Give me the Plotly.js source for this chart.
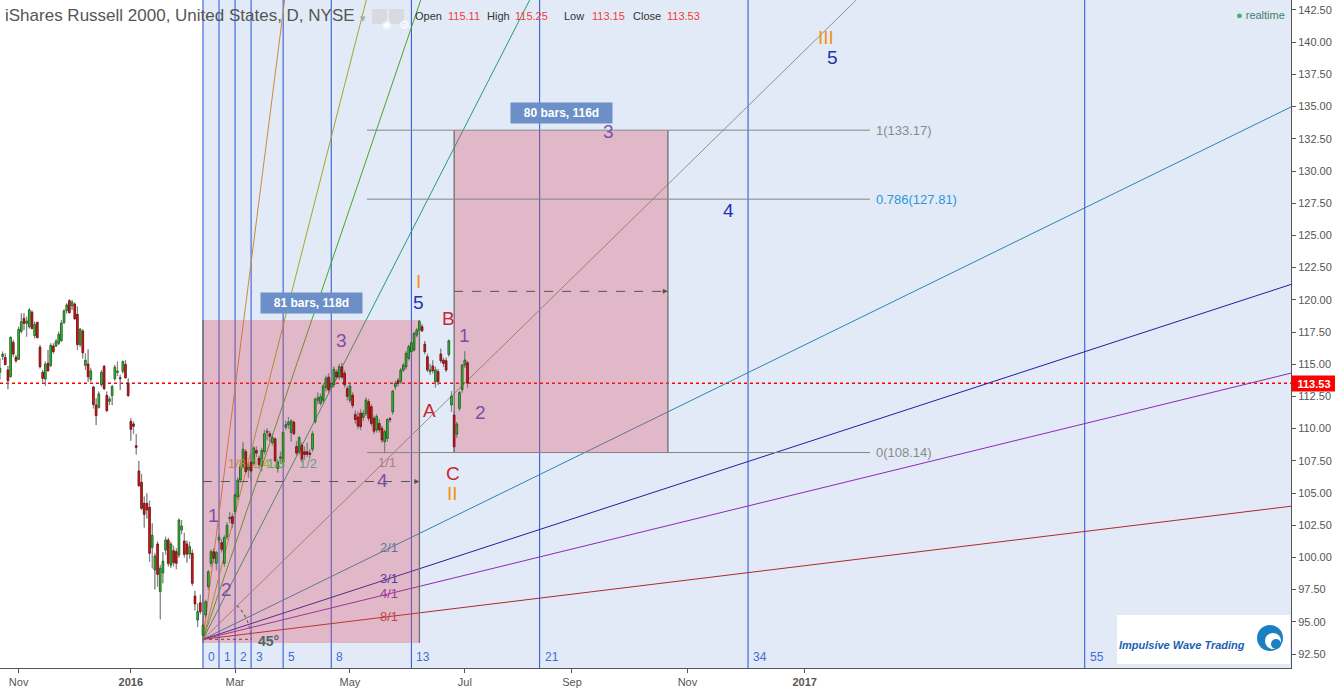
<!DOCTYPE html>
<html><head><meta charset="utf-8">
<script src="https://cdn.plot.ly/plotly-3.0.1.min.js"></script>
<style>html,body{margin:0;padding:0;background:#fff;}#chart{width:1335px;height:689px;}</style>
</head><body><div id="chart"></div>
<script>
// ---------- DATA ----------
const firstBar = -7; // bar index of first candle (bar 0 = first trading day of Nov 2015)
const openP = [114.37,115.61,115.53,114.55,114.03,116.70,115.53,
115.38,117.55,118.56,118.17,117.91,119.03,117.21,118.25,116.31,114.37,
113.85,115.07,114.89,116.41,116.41,116.62,116.83,118.25,119.16,119.93,
119.54,119.67,118.87,116.54,117.58,114.91,115.01,113.82,113.23,111.83,
111.65,113.41,114.83,112.58,112.12,112.56,113.88,114.37,113.95,114.45,
114.99,113.54,110.56,110.36,108.67,106.71,105.83,104.20,104.20,103.89,
100.78,99.02,101.04,97.34,98.80,100.57,101.35,99.41,100.52,100.45,
100.19,102.13,101.27,101.04,100.26,100.32,97.00,95.14,96.48,93.97,
95.53,97.73,99.54,100.44,99.54,101.35,101.14,99.54,101.61,103.00,
103.16,103.55,104.71,106.01,107.04,108.21,106.80,107.40,107.30,108.30,
107.70,107.10,108.20,109.70,109.60,108.90,109.20,106.90,107.70,107.40,
110.10,110.30,109.70,110.50,108.60,108.20,108.70,108.20,108.20,108.10,
108.40,110.54,112.20,111.96,112.20,113.20,114.00,113.20,113.40,114.40,
114.00,114.80,114.30,113.10,112.20,112.60,111.10,110.90,111.20,110.87,
111.18,112.09,111.70,110.80,109.89,110.40,110.02,108.98,109.24,110.74,
111.30,113.25,113.72,113.64,114.54,114.80,115.45,115.97,116.10,117.26,
117.65,117.91,116.56,115.58,114.42,114.86,113.64,114.42,115.79,115.32,
115.27,115.76,111.83,111.05,109.58,111.57,113.04,114.93,115.11];
const highP = [115.45,115.97,115.84,114.86,117.14,116.88,115.71,
117.91,118.95,118.95,118.69,119.34,119.16,118.30,118.28,116.49,114.55,
115.20,116.10,116.62,116.62,116.93,117.52,118.43,119.26,119.72,120.04,
119.98,119.78,119.47,117.78,117.71,115.84,116.15,114.68,113.31,112.35,
112.87,114.55,114.94,112.87,112.48,113.38,114.94,115.20,114.16,115.27,
115.33,113.90,110.80,110.54,109.58,107.48,106.47,104.72,104.97,104.40,
102.64,100.32,101.22,99.40,100.40,101.60,101.50,101.20,100.90,100.70,
103.00,102.90,101.90,101.30,101.20,100.60,97.40,96.40,97.10,94.90,
96.70,99.00,100.60,100.70,100.50,101.80,101.40,101.70,102.70,103.50,
103.40,105.00,106.20,107.30,108.93,108.40,107.30,108.10,108.60,108.60,
107.90,108.50,109.90,110.00,109.80,109.60,109.30,107.50,108.20,109.80,
110.60,110.90,110.70,110.60,109.00,109.40,108.90,108.60,108.90,108.40,
109.80,112.40,112.80,112.70,113.50,114.10,114.30,113.80,114.80,114.60,
115.00,115.10,114.50,113.30,113.50,112.80,111.40,111.30,111.50,111.40,
112.40,112.30,111.90,111.00,111.10,110.70,110.20,109.90,110.80,110.90,
113.00,113.70,113.90,114.70,115.10,116.00,116.50,116.80,117.50,117.80,
118.43,118.10,116.80,115.80,115.00,115.30,114.80,114.60,116.20,115.50,
115.50,116.90,112.90,111.30,110.50,112.90,115.00,116.00,115.25];
const lowP = [113.82,115.33,114.94,113.07,113.98,115.58,115.12,
115.33,117.40,117.65,117.14,117.78,117.71,117.01,117.01,114.68,113.64,
113.31,114.42,114.81,115.84,116.36,116.49,116.75,118.12,118.95,118.95,
119.21,118.43,116.10,116.36,115.45,114.55,113.64,113.64,111.57,110.28,
111.57,113.26,113.00,111.31,111.83,111.83,113.72,114.08,113.00,114.29,
113.90,112.48,109.06,109.58,108.00,105.49,103.68,102.33,103.03,99.67,
99.15,97.52,97.73,95.20,98.00,100.20,99.30,99.20,99.30,99.10,
100.00,101.80,100.00,99.60,99.90,97.80,95.90,94.60,95.60,93.64,
95.30,97.50,99.30,99.60,99.00,101.10,100.40,99.30,101.40,102.70,
102.30,103.40,104.50,105.80,106.90,106.50,106.20,105.90,107.10,107.80,
106.90,106.70,108.00,109.10,109.00,108.70,107.40,106.60,107.30,107.10,
109.90,110.00,109.00,109.50,107.90,108.00,107.40,107.60,107.80,107.70,
108.20,110.40,111.90,111.80,112.00,112.90,112.80,113.00,113.20,113.80,
113.80,113.90,113.20,112.20,112.00,111.60,110.40,110.00,109.90,110.60,
111.00,110.60,110.20,109.60,109.70,109.70,108.90,108.10,109.00,110.50,
111.10,113.00,113.30,113.50,114.40,114.60,115.30,115.80,116.00,117.10,
117.50,117.50,115.80,114.40,114.20,114.30,113.20,113.40,115.10,114.80,
114.40,115.60,111.30,108.14,109.30,111.40,112.80,114.70,113.15];
const closeP = [114.68,115.77,114.96,113.72,117.09,115.79,115.27,
117.71,118.30,118.17,118.35,119.21,117.78,118.09,117.06,114.81,113.90,
115.01,114.50,116.46,115.97,116.77,117.32,118.20,119.13,119.60,119.00,
119.80,118.53,116.52,117.71,115.89,115.30,114.03,114.47,111.86,111.00,
112.69,114.37,113.10,111.39,112.30,113.26,114.76,114.47,113.88,115.20,
113.95,112.56,109.94,110.18,108.54,105.57,103.81,103.34,103.68,100.32,
101.71,100.11,98.68,99.15,99.70,101.35,99.54,101.02,99.59,99.54,
102.90,102.43,100.24,100.26,100.83,97.99,96.38,95.79,95.79,94.75,
96.56,98.89,100.44,99.93,100.37,101.56,100.63,101.56,102.49,103.11,
102.64,104.84,106.01,107.04,108.39,106.66,107.00,106.70,108.50,108.10,
107.20,108.30,109.60,109.80,109.40,109.30,107.50,107.40,107.80,109.70,
110.30,110.50,110.60,109.60,108.10,109.30,107.60,108.00,108.00,108.00,
109.60,112.27,112.40,112.47,113.30,113.90,113.00,113.50,114.60,114.00,
114.80,114.00,113.40,112.50,113.30,111.80,110.70,110.20,110.15,111.18,
112.22,110.80,110.40,109.80,110.92,109.90,109.11,109.76,110.70,110.70,
112.90,113.50,113.51,114.54,114.93,115.84,116.36,116.67,117.39,117.65,
118.30,117.60,115.97,114.55,114.55,114.50,114.55,113.64,115.27,115.06,
114.55,116.82,112.53,108.59,110.35,112.79,114.93,115.32,113.53];

const xTickVals = [0, 42, 81, 124, 167, 207.1, 250.3, 294.2];
const xTickText = ['Nov', '<b>2016</b>', 'Mar', 'May', 'Jul', 'Sep', 'Nov', '<b>2017</b>'];

const swingLowBar = 69, swingLowPrice = 93.64;   // Gann fan / Fib time zone origin
const gannSlope = 0.203;                           // 1x1 price per bar
const gannSecondBar = 139;
const gannNames = ['1/8','1/4','1/3','1/2','1/1','2/1','3/1','4/1','8/1'];
const gannFactors = [8, 4, 3, 2, 1, 1/2, 1/3, 1/4, 1/8];
const fibZoneNums = [0,1,2,3,5,8,13,21,34,55];
const fibZoneUnit = 6;
const fibExtLow = 108.14, fibExtHigh = 133.17;
const fibExtLevels = [1, 0.786, 0];
const range1 = {bar0:69, bar1:150, low:93.35, high:118.43, text:'81 bars, 118d'};
const range2 = {bar0:163, bar1:243, low:108.14, high:133.17, text:'80 bars, 116d'};
const waveText  = ['1','2','3','4','5','I','A','B','C','II','1','2','3','4','5','III'];
const waveKind  = ['p','p','p','p','b','o','r','r','r','o','p','p','p','b','b','o'];

// ---------- GEOMETRY HELPERS (layout only) ----------
const xMin = -6.97, xMax = 476.2, yMin = 91.413, yMax = 143.276;
const pxPerBar = 2.672, pxPerUnit = 12.88, plotW = 1291, plotH = 668;
const pxX = px => xMin + px / pxPerBar;
const pxY = py => yMax - py / pxPerUnit;
const FONT = 'Liberation Sans, Arial, sans-serif';

const n = openP.length;
const xs = [], wBase = [], wLen = [], bBase = [], bLen = [], bCol = [], bLine = [];
for (let k = 0; k < n; k++) {
  xs.push(firstBar + k);
  wBase.push(lowP[k]); wLen.push(highP[k] - lowP[k]);
  const up = closeP[k] >= openP[k];
  bBase.push(Math.min(openP[k], closeP[k]));
  bLen.push(Math.max(Math.abs(closeP[k] - openP[k]), 0.06));
  bCol.push(up ? '#1fd31f' : '#f01010');
  bLine.push(up ? '#234a23' : '#5a0e0e');
}

const traces = [
  {type:'bar', x:xs, base:wBase, y:wLen, width:0.12, marker:{color:'#7a7a7a', line:{color:'#7a7a7a', width:0.7}}, hoverinfo:'skip', showlegend:false},
  {type:'bar', x:xs, base:bBase, y:bLen, width:0.66, marker:{color:bCol, line:{color:bLine, width:0.8}}, hoverinfo:'skip', showlegend:false}
];

const shapes = [];
const ann = [];
// Fib time zone background
shapes.push({type:'rect', xref:'x', yref:'paper', x0:swingLowBar, x1:xMax, y0:0, y1:1, fillcolor:'#e3eaf7', line:{width:0}, layer:'below'});
// Fib time zone lines + labels
fibZoneNums.forEach(z => {
  const xi = swingLowBar + fibZoneUnit * z;
  shapes.push({type:'line', xref:'x', yref:'paper', x0:xi, x1:xi, y0:0, y1:1, line:{color:'#2453d4', width:1}, layer:'below'});
  ann.push({x:xi + 1.1, y:pxY(657), xref:'x', yref:'y', text:String(z), showarrow:false, xanchor:'left', yanchor:'middle', font:{family:FONT, size:12, color:'#3d6ad6'}});
});
// Gann fan
const gannColors = ['#c98a3c','#a3a626','#45a62a','#1e9e72','#8f8f8f','#2a86b3','#20209e','#8a2bb5','#b02a2a'];
const gannLabelColors = ['#c8864a','#a8a84a','#5aa84a','#6a9a85','#a08585','#5c7896','#5a3aa0','#9a3aa0','#c04848'];
const p2 = swingLowPrice + (gannSecondBar - swingLowBar) * gannSlope;
gannFactors.forEach((f, k) => {
  const s = gannSlope * f;
  const endX = Math.min(xMax, swingLowBar + (yMax - swingLowPrice) / s);
  shapes.push({type:'line', xref:'x', yref:'y', x0:swingLowBar, y0:swingLowPrice, x1:endX, y1:swingLowPrice + (endX - swingLowBar) * s,
    line:{color:gannColors[k], width:1}, layer:'below'});
  if (f > 1) {
    ann.push({x:swingLowBar + (p2 - swingLowPrice) / s, y:pxY(463), xref:'x', yref:'y', text:gannNames[k], showarrow:false, xanchor:'left', yanchor:'middle', font:{family:FONT, size:13, color:gannLabelColors[k]}});
  } else if (f === 1) {
    ann.push({x:pxX(387), y:pxY(462), xref:'x', yref:'y', text:gannNames[k], showarrow:false, xanchor:'center', yanchor:'middle', font:{family:FONT, size:13, color:gannLabelColors[k]}});
  } else {
    ann.push({x:pxX(389), y:swingLowPrice + (gannSecondBar - swingLowBar) * s, xref:'x', yref:'y', text:gannNames[k], showarrow:false, xanchor:'center', yanchor:'middle', font:{family:FONT, size:13, color:gannLabelColors[k]}});
  }
});
// 45 degree arc + baseline
let arc = '';
for (let k = 0; k <= 16; k++) {
  const th = (45 - 45 * k / 16) * Math.PI / 180;
  arc += (k ? ' L ' : 'M ') + (swingLowBar + 48 * Math.cos(th) / pxPerBar) + ',' + (swingLowPrice + 48 * Math.sin(th) / pxPerUnit);
}
shapes.push({type:'path', xref:'x', yref:'y', path:arc, line:{color:'#4d6b6b', width:1.2, dash:'dot'}, layer:'below'});
shapes.push({type:'line', xref:'x', yref:'y', x0:swingLowBar, x1:swingLowBar + 49 / pxPerBar, y0:swingLowPrice, y1:swingLowPrice, line:{color:'#4d6b6b', width:1.2, dash:'dot'}, layer:'below'});
ann.push({x:pxX(256), y:pxY(641), xref:'x', yref:'y', text:'<b>45°</b>', showarrow:false, xanchor:'left', yanchor:'middle', font:{family:FONT, size:14, color:'#4d6666'}});

// Date/price ranges
[range1, range2].forEach(r => {
  shapes.push({type:'rect', xref:'x', yref:'y', x0:r.bar0, x1:r.bar1, y0:r.low, y1:r.high, fillcolor:'rgba(222,70,88,0.3)', line:{width:0}, layer:'below'});
  [r.bar0, r.bar1].forEach(b => shapes.push({type:'line', xref:'x', yref:'y', x0:b, x1:b, y0:r.low, y1:r.high, line:{color:'#6f6f6f', width:1.3}, layer:'below'}));
  const mid = (r.low + r.high) / 2;
  shapes.push({type:'line', xref:'x', yref:'y', x0:r.bar0, x1:r.bar1 - 1, y0:mid, y1:mid, line:{color:'#555', width:1, dash:'dash'}, layer:'below'});
  ann.push({x:r.bar1, y:mid, xref:'x', yref:'y', ax:-7, ay:0, text:'', showarrow:true, arrowhead:2, arrowsize:1, arrowwidth:1, arrowcolor:'#555'});
  ann.push({x:(r.bar0 + r.bar1) / 2, y:r.high + 0.5, xref:'x', yref:'y', text:'<b>' + r.text + '</b>', showarrow:false, xanchor:'center', yanchor:'bottom',
    bgcolor:'#6b8fc6', borderpad:0, width:101, height:20, font:{family:FONT, size:12, color:'#ffffff'}});
});

// Fibonacci extension levels
fibExtLevels.forEach(l => {
  const p = fibExtLow + l * (fibExtHigh - fibExtLow);
  shapes.push({type:'line', xref:'x', yref:'y', x0:pxX(367), x1:pxX(870), y0:p, y1:p, line:{color:'#858585', width:1}, layer:'below'});
  ann.push({x:pxX(874), y:p, xref:'x', yref:'y', text:l + '(' + p.toFixed(2) + ')', showarrow:false, xanchor:'left', yanchor:'middle',
    font:{family:FONT, size:13, color: l === 0.786 ? '#2b98d8' : '#8a8a8a'}});
});

// current price line
const lastClose = closeP[n - 1];
shapes.push({type:'line', xref:'paper', yref:'y', x0:0, x1:1, y0:lastClose, y1:lastClose, line:{color:'#ff0000', width:1.5, dash:'dot'}, layer:'below'});
ann.push({x:1, y:lastClose, xref:'paper', yref:'y', text:'<b>' + lastClose.toFixed(2) + '</b>', showarrow:false, xanchor:'left', yanchor:'middle',
  bgcolor:'#ff0000', borderpad:0, width:44, height:15, font:{family:FONT, size:11, color:'#ffffff'}});

// Elliott wave labels
const waveColors = {p:'#7b4ea6', b:'#2230b8', o:'#f39219', r:'#c8262e'};
const wavePx = [[214,515],[227,589],[342,340],[383,480],[419,302],[419,281],[430,410],[449,318],[453,473],[453,493],[465,335],[481,412],[609,131],[729,210],[833,57],[826,37]];
waveText.forEach((t, k) => {
  ann.push({x:pxX(wavePx[k][0]), y:pxY(wavePx[k][1]), xref:'x', yref:'y', text:t, showarrow:false, xanchor:'center', yanchor:'middle',
    font:{family:FONT, size:19, color:waveColors[waveKind[k]]}});
});

// header
const P = (px) => px / plotW, Q = (py) => 1 - py / plotH;
ann.push({x:P(3), y:Q(16), xref:'paper', yref:'paper', text:'iShares Russell 2000, United States, D, NYSE', showarrow:false, xanchor:'left', yanchor:'middle', font:{family:FONT, size:17, color:'#555'}});
ann.push({x:P(358), y:Q(18), xref:'paper', yref:'paper', text:'▾', showarrow:false, xanchor:'left', yanchor:'middle', font:{family:FONT, size:11, color:'#aaa'}});
shapes.push({type:'rect', xref:'paper', yref:'paper', x0:P(372), x1:P(387), y0:Q(24), y1:Q(9), fillcolor:'#d7dbe0', line:{width:0}, layer:'above'});
shapes.push({type:'rect', xref:'paper', yref:'paper', x0:P(389), x1:P(404), y0:Q(24), y1:Q(9), fillcolor:'#d7dbe0', line:{width:0}, layer:'above'});
ann.push({x:P(379.5), y:Q(16.5), xref:'paper', yref:'paper', text:'◉', showarrow:false, font:{family:'DejaVu Sans', size:11, color:'#ffffff'}});
ann.push({x:P(396.5), y:Q(16.5), xref:'paper', yref:'paper', text:'⚙', showarrow:false, font:{family:'DejaVu Sans', size:12, color:'#ffffff'}});
const hdrLabels = ['Open','High','Low','Close'];
const hdrValues = [openP[n-1], highP[n-1], lowP[n-1], closeP[n-1]];
const hdrLx = [413, 485, 562, 631], hdrVx = [446, 513, 590, 665];
hdrLabels.forEach((l, k) => {
  ann.push({x:P(hdrLx[k]), y:Q(16), xref:'paper', yref:'paper', text:l, showarrow:false, xanchor:'left', yanchor:'middle', font:{family:FONT, size:11, color:'#333'}});
  ann.push({x:P(hdrVx[k]), y:Q(16), xref:'paper', yref:'paper', text:hdrValues[k].toFixed(2), showarrow:false, xanchor:'left', yanchor:'middle', font:{family:FONT, size:11, color:'#f23b3b'}});
});
ann.push({x:P(1287), y:Q(15), xref:'paper', yref:'paper', text:'<span style="color:#3cb371">●</span> realtime', showarrow:false, xanchor:'right', yanchor:'middle', font:{family:FONT, size:11, color:'#3f7f6e'}});

// logo box
shapes.push({type:'rect', xref:'paper', yref:'paper', x0:P(1117), x1:P(1290), y0:Q(664), y1:Q(615), fillcolor:'#ffffff', line:{width:0}, layer:'above'});
shapes.push({type:'circle', xref:'paper', yref:'paper', xsizemode:'pixel', ysizemode:'pixel', xanchor:P(1270), yanchor:Q(638), x0:-13, x1:13, y0:-13, y1:13, fillcolor:'#1b80c2', line:{width:0}, layer:'above'});
shapes.push({type:'circle', xref:'paper', yref:'paper', xsizemode:'pixel', ysizemode:'pixel', xanchor:P(1273), yanchor:Q(641), x0:-8, x1:8, y0:-8, y1:8, fillcolor:'#ffffff', line:{width:0}, layer:'above'});
shapes.push({type:'circle', xref:'paper', yref:'paper', xsizemode:'pixel', ysizemode:'pixel', xanchor:P(1276), yanchor:Q(644), x0:-5, x1:5, y0:-5, y1:5, fillcolor:'#1b80c2', line:{width:0}, layer:'above'});
ann.push({x:P(1182), y:Q(645), xref:'paper', yref:'paper', text:'<b><i>Impulsive Wave Trading</i></b>', showarrow:false, xanchor:'center', yanchor:'middle', font:{family:FONT, size:11, color:'#1a5fb4'}});

const layout = {
  width:1335, height:689, margin:{l:0, r:44, t:0, b:21, pad:0},
  paper_bgcolor:'#ffffff', plot_bgcolor:'#ffffff', showlegend:false, barmode:'overlay', bargap:0,
  font:{family:FONT, size:11, color:'#555'},
  xaxis:{range:[xMin, xMax], tickvals:xTickVals, ticktext:xTickText, ticks:'outside', ticklen:4, tickcolor:'#555',
    showline:true, linecolor:'#555', linewidth:1, showgrid:false, zeroline:false, fixedrange:true, tickfont:{family:FONT, size:11, color:'#555'}},
  yaxis:{range:[yMin, yMax], side:'right', tick0:92.5, dtick:2.5, tickformat:'.2f', ticks:'outside', ticklen:4, tickcolor:'#555',
    showline:true, linecolor:'#555', linewidth:1, showgrid:false, zeroline:false, fixedrange:true, tickfont:{family:FONT, size:11, color:'#555'}},
  shapes:shapes, annotations:ann
};
Plotly.newPlot('chart', traces, layout, {staticPlot:true, displayModeBar:false});
</script>
</body></html>
